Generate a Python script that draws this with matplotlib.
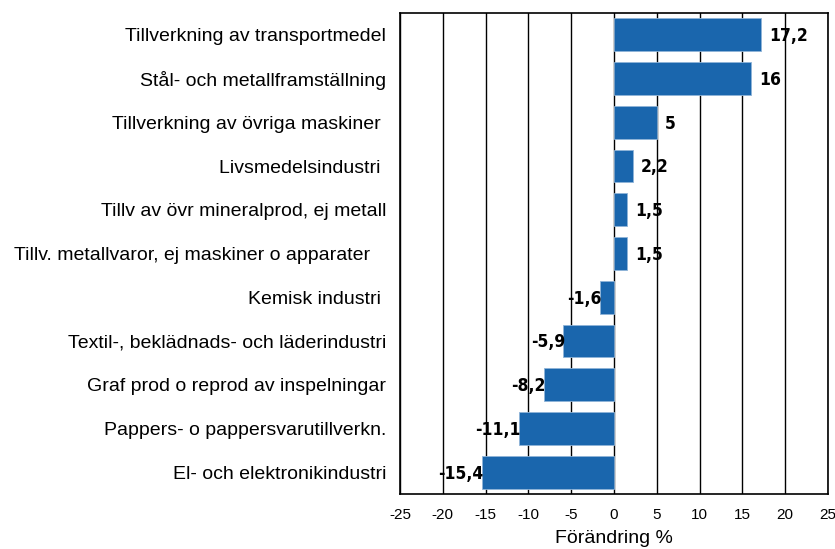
import matplotlib
matplotlib.use("Agg")
import matplotlib.pyplot as plt

categories = [
    "Tillverkning av transportmedel",
    "Stål- och metallframställning",
    "Tillverkning av övriga maskiner ",
    "Livsmedelsindustri ",
    "Tillv av övr mineralprod, ej metall",
    "Tillv. metallvaror, ej maskiner o apparater   ",
    "Kemisk industri ",
    "Textil-, beklädnads- och läderindustri",
    "Graf prod o reprod av inspelningar",
    "Pappers- o pappersvarutillverkn.",
    "El- och elektronikindustri",
]
values = [17.2, 16, 5, 2.2, 1.5, 1.5, -1.6, -5.9, -8.2, -11.1, -15.4]
value_labels = ["17,2", "16", "5", "2,2", "1,5", "1,5", "-1,6", "-5,9", "-8,2", "-11,1", "-15,4"]
xticks = [-25, -20, -15, -10, -5, 0, 5, 10, 15, 20, 25]

fig = plt.figure(figsize=(8.35, 5.49), dpi=100)
ax = fig.add_axes([400 / 835, 1 - 494 / 549, 428 / 835, 481 / 549])

y = list(range(len(categories)))[::-1]
ax.barh(y, values, height=0.75, color="#1a66ad", edgecolor="#8fb4d8", linewidth=0.6, zorder=3)

ax.set_xlim(-25, 25)
ax.set_ylim(-0.5, len(categories) - 0.5)
ax.set_xticks(xticks)
ax.set_xticklabels([str(t) for t in xticks], fontsize=11, family=["Liberation Sans", "DejaVu Sans"])
ax.xaxis.grid(True, color="black", linewidth=1, zorder=0)
ax.tick_params(axis="x", length=0, pad=10)
ax.tick_params(axis="y", length=0, pad=10)
ax.set_yticks(y)
ax.set_yticklabels(categories, fontsize=14, family=["Liberation Sans", "DejaVu Sans"])
for s in ax.spines.values():
    s.set_linewidth(1.2)
ax.set_xlabel("Förändring %", fontsize=14, family=["Liberation Sans", "DejaVu Sans"], labelpad=6)

lab_font = dict(fontsize=12.5, fontweight="bold", family="DejaVu Sans", fontstretch="condensed")
for yi, v, lab in zip(y, values, value_labels):
    if v >= 0:
        ax.annotate(lab, (v, yi), xytext=(6, -1), textcoords="offset points",
                    ha="left", va="center", zorder=4, **lab_font)
    else:
        ax.annotate(lab, (v, yi), xytext=(1, -1), textcoords="offset points",
                    ha="right", va="center", zorder=4, **lab_font)

fig.savefig("out.png", dpi=100)
